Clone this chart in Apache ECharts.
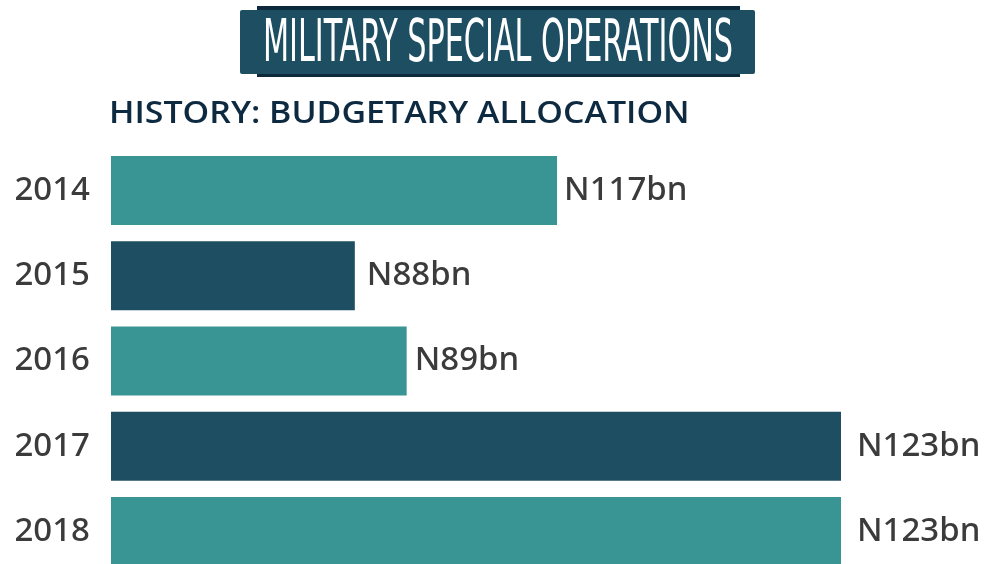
<!DOCTYPE html>
<html>
<head>
<meta charset="utf-8">
<script src="https://cdn.jsdelivr.net/npm/echarts@6/dist/echarts.min.js"></script>
<style>html,body{margin:0;padding:0;background:#fff;}#c{width:995px;height:564px;}</style>
</head>
<body>
<div id="c"></div>
<script>
const years = ['2014', '2015', '2016', '2017', '2018'];
const amountsBn = [117, 88, 89, 123, 123];
// Bar lengths as drawn in the infographic (not proportional to amounts), in % of the longest bar
const barLengthPct = [61.1, 33.4, 40.5, 100, 100];
const titleText = 'MILITARY SPECIAL OPERATIONS';
const subtitleText = 'HISTORY: BUDGETARY ALLOCATION';

// styling (not data)
const barColors = ['#389593', '#1e4e62', '#389593', '#1e4e62', '#389593'];
const labelGap = [7, 12, 8, 16, 16];

const chart = echarts.init(document.getElementById('c'));
chart.setOption({
  animation: false,
  backgroundColor: '#ffffff',
  grid: { left: 111, right: 154, top: 190.5, bottom: 32.5, containLabel: false },
  xAxis: { type: 'value', min: 0, max: 100, show: false },
  yAxis: {
    type: 'category', data: years, inverse: true, boundaryGap: false,
    axisLine: { show: false }, axisTick: { show: false },
    axisLabel: { color: '#3b3b3b', fontFamily: 'Noto Sans', fontSize: 33, fontWeight: 500, margin: 21 }
  },
  graphic: [
    { type: 'rect', shape: { x: 257, y: 6, width: 483, height: 71 }, style: { fill: '#0d2a3c' } },
    { type: 'rect', shape: { x: 240, y: 10, width: 515, height: 64, r: 2 }, style: { fill: '#1e4e62' } },
    { type: 'text', x: 498, y: 46, scaleX: 0.58,
      style: { text: titleText, fill: '#ffffff', font: '58px "Liberation Sans Narrow", "DejaVu Sans Condensed", sans-serif',
        textAlign: 'center', textVerticalAlign: 'middle' } },
    { type: 'text', x: 109, y: 114, scaleX: 1.13,
      style: { text: subtitleText, fill: '#0e2a40', font: '600 30px "Open Sans", sans-serif',
        textAlign: 'left', textVerticalAlign: 'middle' } }
  ],
  series: [{
    type: 'bar',
    barWidth: 69,
    clip: false,
    data: barLengthPct.map((v, i) => ({ value: v, itemStyle: { color: barColors[i] }, label: { distance: labelGap[i] } })),
    label: {
      show: true, position: 'right',
      formatter: p => 'N' + amountsBn[p.dataIndex] + 'bn',
      color: '#3b3b3b', fontFamily: 'Noto Sans', fontSize: 33, fontWeight: 500
    }
  }]
});
</script>
</body>
</html>
